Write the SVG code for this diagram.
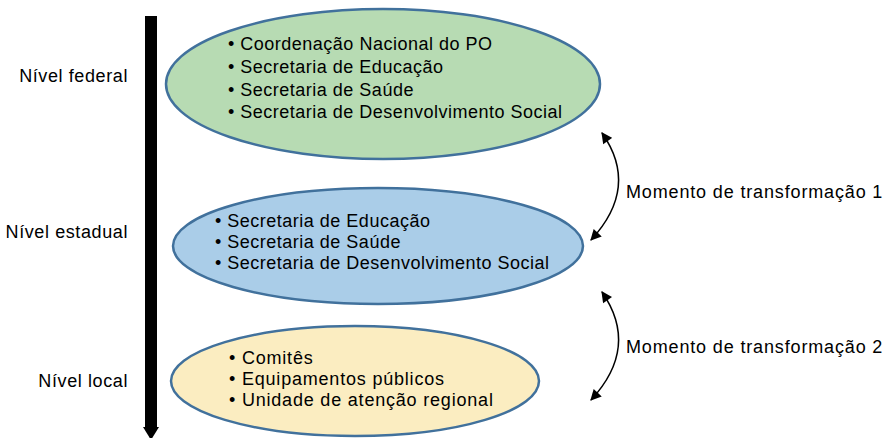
<svg xmlns="http://www.w3.org/2000/svg" width="888" height="438" viewBox="0 0 888 438">
<defs>
<style>
text{font-family:"Liberation Sans",Arial,sans-serif;fill:#000;}
.lvl{font-size:18px;letter-spacing:0.6px;text-anchor:end;}
.it{font-size:18px;letter-spacing:0.5px;}
.it2{font-size:18px;letter-spacing:0.8px;}
.mom{font-size:18px;letter-spacing:0.85px;}
.node{stroke:#41719c;stroke-width:2.5;}
.conn{fill:none;stroke:#000;stroke-width:1.5;}
</style>
<marker id="ah" viewBox="0 0 10 10" refX="9" refY="5" markerWidth="12" markerHeight="11" markerUnits="userSpaceOnUse" orient="auto-start-reverse">
<path d="M0,0 L10,5 L0,10 z" fill="#000"/>
</marker>
</defs>
<rect width="888" height="438" fill="#fff"/>
<g id="axis">
<rect x="145" y="16" width="12" height="413" fill="#000"/>
<polygon points="143,427 159,427 151,440" fill="#000"/>
</g>
<g id="labels">
<text class="lvl" x="128" y="82">Nível federal</text>
<text class="lvl" x="128" y="238">Nível estadual</text>
<text class="lvl" x="128" y="387">Nível local</text>
</g>
<g id="federal">
<ellipse class="node" cx="383" cy="84" rx="217" ry="75" fill="#b7dbb3"/>
<text class="it" x="228" y="50">• Coordenação Nacional do PO</text>
<text class="it" x="228" y="73">• Secretaria de Educação</text>
<text class="it" x="228" y="96">• Secretaria de Saúde</text>
<text class="it" x="228" y="118">• Secretaria de Desenvolvimento Social</text>
</g>
<g id="estadual">
<ellipse class="node" cx="378" cy="246" rx="205" ry="58" fill="#aacde8"/>
<text class="it" x="215" y="227">• Secretaria de Educação</text>
<text class="it" x="215" y="248">• Secretaria de Saúde</text>
<text class="it" x="215" y="269">• Secretaria de Desenvolvimento Social</text>
</g>
<g id="local">
<ellipse class="node" cx="355" cy="381" rx="184" ry="55" fill="#fbedc1"/>
<text class="it2" x="229" y="364">• Comitês</text>
<text class="it2" x="229" y="385">• Equipamentos públicos</text>
<text class="it2" x="229" y="406">• Unidade de atenção regional</text>
</g>
<g id="connectors">
<path class="conn" d="M602,133 Q640,187 591,240" marker-start="url(#ah)" marker-end="url(#ah)"/>
<path class="conn" d="M602,292 Q640,347 591,400" marker-start="url(#ah)" marker-end="url(#ah)"/>
</g>
<g id="moments">
<text class="mom" x="626" y="198">Momento de transformação 1</text>
<text class="mom" x="626" y="353">Momento de transformação 2</text>
</g>
</svg>
